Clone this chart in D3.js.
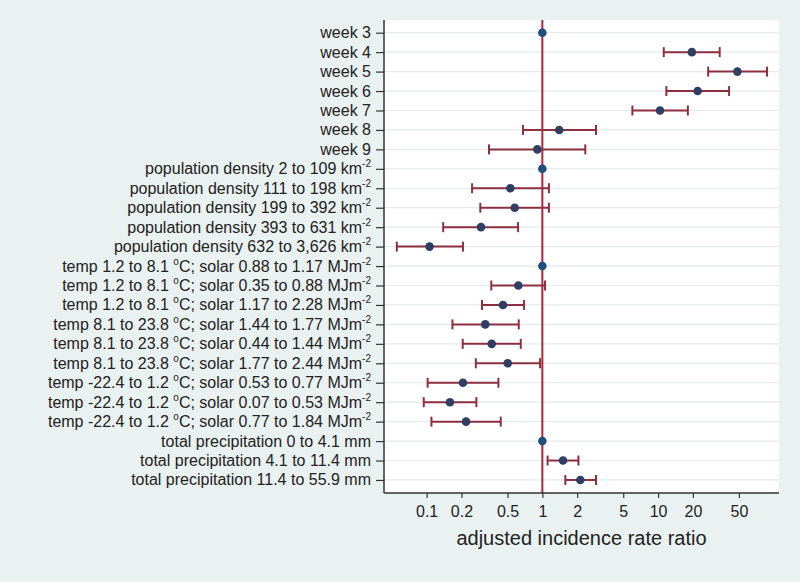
<!DOCTYPE html>
<html><head><meta charset="utf-8">
<script src="https://cdn.jsdelivr.net/npm/d3@7"></script>
<style>body{margin:0;background:#eaf1f1;} svg{display:block;}</style>
</head><body>
<svg id="chart" width="800" height="582"></svg>
<script>
const labels = [
  "week 3","week 4","week 5","week 6","week 7","week 8","week 9",
  "population density 2 to 109 km^{-2}",
  "population density 111 to 198 km^{-2}",
  "population density 199 to 392 km^{-2}",
  "population density 393 to 631 km^{-2}",
  "population density 632 to 3,626 km^{-2}",
  "temp 1.2 to 8.1 ^{o}C; solar 0.88 to 1.17 MJm^{-2}",
  "temp 1.2 to 8.1 ^{o}C; solar 0.35 to 0.88 MJm^{-2}",
  "temp 1.2 to 8.1 ^{o}C; solar 1.17 to 2.28 MJm^{-2}",
  "temp 8.1 to 23.8 ^{o}C; solar 1.44 to 1.77 MJm^{-2}",
  "temp 8.1 to 23.8 ^{o}C; solar 0.44 to 1.44 MJm^{-2}",
  "temp 8.1 to 23.8 ^{o}C; solar 1.77 to 2.44 MJm^{-2}",
  "temp -22.4 to 1.2 ^{o}C; solar 0.53 to 0.77 MJm^{-2}",
  "temp -22.4 to 1.2 ^{o}C; solar 0.07 to 0.53 MJm^{-2}",
  "temp -22.4 to 1.2 ^{o}C; solar 0.77 to 1.84 MJm^{-2}",
  "total precipitation 0 to 4.1 mm",
  "total precipitation 4.1 to 11.4 mm",
  "total precipitation 11.4 to 55.9 mm"
];
const estimate = [1,19.6,48.5,22.0,10.4,1.40,0.905, 1,0.529,0.577,0.295,0.106,
  1,0.620,0.457,0.321,0.365,0.502,0.206,0.159,0.219, 1,1.51,2.13];
const lower = [null,11.2,27.1,11.8,6.0,0.68,0.346, null,0.247,0.291,0.139,0.0552,
  null,0.362,0.301,0.167,0.205,0.266,0.102,0.0944,0.110, null,1.11,1.58];
const upper = [null,34.1,87.5,41.1,18.1,2.91,2.35, null,1.14,1.14,0.617,0.206,
  null,1.055,0.695,0.625,0.651,0.955,0.417,0.269,0.437, null,2.05,2.91];
const xTicks = [0.1,0.2,0.5,1,2,5,10,20,50];
const xTickLabels = ["0.1","0.2","0.5","1","2","5","10","20","50"];
const xTitle = "adjusted incidence rate ratio";

const FONT = "Liberation Sans, Arial, sans-serif";
const svg = d3.select("#chart");
const L = 384, R = 779, T = 20, B = 493;
svg.append("rect").attr("width",800).attr("height",582).attr("fill","#eaf1f1");
svg.append("rect").attr("x",L).attr("y",T).attr("width",R-L).attr("height",B-T).attr("fill","#ffffff");

const x = d3.scaleLog().domain([0.0428, 111]).range([L, R]);
const y = d3.scaleLinear().domain([-0.653, labels.length - 1 + 0.67]).range([T, B]);

// grid
svg.append("g").selectAll("line").data(labels).join("line")
  .attr("x1", L).attr("x2", R)
  .attr("y1", (d,i)=>y(i)).attr("y2",(d,i)=>y(i))
  .attr("stroke","#e6eaea").attr("stroke-width",1.2);

// reference line
svg.append("line").attr("x1",x(1)).attr("x2",x(1)).attr("y1",T).attr("y2",B)
  .attr("stroke","#b0243a").attr("stroke-width",2);

// CIs
const ci = svg.append("g").attr("stroke","#8c2f40").attr("stroke-width",2);
labels.forEach((lab,i)=>{
  if (lower[i]==null) return;
  const yy = y(i);
  ci.append("line").attr("x1",x(lower[i])).attr("x2",x(upper[i])).attr("y1",yy).attr("y2",yy);
  ci.append("line").attr("x1",x(lower[i])).attr("x2",x(lower[i])).attr("y1",yy-5).attr("y2",yy+5);
  ci.append("line").attr("x1",x(upper[i])).attr("x2",x(upper[i])).attr("y1",yy-5).attr("y2",yy+5);
});

// points
svg.append("g").selectAll("circle").data(estimate).join("circle")
  .attr("cx", d=>x(d)).attr("cy",(d,i)=>y(i)).attr("r",4.3)
  .attr("fill", (d,i)=> lower[i]==null ? "#1f4f7a" : "#2e3f63");

// axes
const yAxis = d3.axisLeft(y).tickValues(d3.range(labels.length)).tickSize(8).tickFormat("");
const gy = svg.append("g").attr("transform",`translate(${L},0)`).call(yAxis);
gy.select(".domain").attr("d",`M0,${T}V${B}`).attr("stroke","#333").attr("stroke-width",1.5);
gy.selectAll(".tick line").attr("stroke","#333").attr("stroke-width",1.2);

const xAxis = d3.axisBottom(x).tickValues(xTicks).tickSize(5)
  .tickFormat((d,i)=>xTickLabels[i]);
const gx = svg.append("g").attr("transform",`translate(0,${B})`).call(xAxis);
gx.select(".domain").attr("d",`M${L},0H${R}`).attr("stroke","#333").attr("stroke-width",1.5);
gx.selectAll(".tick line").attr("stroke","#333").attr("stroke-width",1.2);
gx.selectAll(".tick text").attr("font-family",FONT)
  .attr("font-size",16).attr("fill","#222").attr("y",24).attr("dy",0);

// y labels with superscripts
const lg = svg.append("g").attr("font-family",FONT)
  .attr("font-size",16).attr("fill","#222");
labels.forEach((lab,i)=>{
  const t = lg.append("text").attr("x", L-13).attr("y", y(i)+5.5).attr("text-anchor","end");
  const parts = lab.split(/(\^\{[^}]*\})/);
  let sup = false;
  parts.forEach(p=>{
    if (!p) return;
    const m = p.match(/^\^\{([^}]*)\}$/);
    if (m) {
      t.append("tspan").attr("dy",-7).attr("font-size",10).text(m[1]);
      sup = true;
    } else {
      const ts = t.append("tspan").text(p);
      if (sup) { ts.attr("dy",7); sup = false; }
    }
  });
});

svg.append("text").attr("x",(L+R)/2).attr("y",545).attr("text-anchor","middle")
  .attr("font-family",FONT).attr("font-size",20)
  .attr("fill","#222").text(xTitle);
</script>
</body></html>
